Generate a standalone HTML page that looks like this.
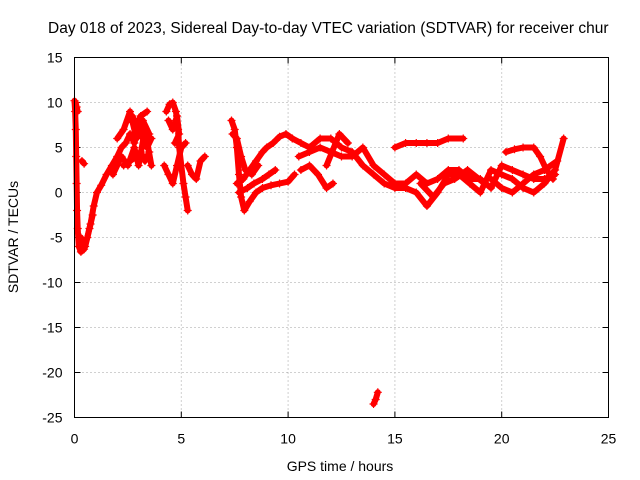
<!DOCTYPE html>
<html><head><meta charset="utf-8"><style>
body{margin:0;background:#fff;}
svg{display:block;font-family:"Liberation Sans",sans-serif;}
</style></head><body>
<svg id="chart" width="640" height="480">
<text x="48" y="33" font-size="15.5" text-anchor="start">Day 018 of 2023, Sidereal Day-to-day VTEC variation (SDTVAR) for receiver chur</text>
<text x="340" y="471" font-size="14" text-anchor="middle">GPS time / hours</text>
<text x="18" y="237" font-size="14" text-anchor="middle" transform="rotate(-90 18 237)">SDTVAR / TECUs</text>
<g id="grid"></g>
<g id="ticks"></g>
<g id="plot"></g>
<rect x="74.5" y="57.5" width="534" height="360" fill="none" stroke="#000"/>
</svg>
<script>
const xTicks=[0,5,10,15,20,25];
const yTicks=[15,10,5,0,-5,-10,-15,-20,-25];
const segA=[[0,10.2],[0.03,9],[0.06,7],[0.08,4],[0.1,1],[0.12,-2],[0.15,-4],[0.2,-6],[0.3,-6.6],[0.45,-6.3],[0.6,-5],[0.75,-3.5],[0.9,-1.5],[1.05,0],[1.25,0.8],[1.5,2],[1.75,3],[2.0,4],[2.2,5],[2.4,5.5],[2.6,6.5],[2.8,5.5],[3.0,7],[3.2,6],[3.4,5],[3.6,6]];
const segA2=[[0.05,10],[0.1,9.5],[0.15,9]];
const segA3=[[2.3,3],[2.6,3.5],[2.9,4],[3.1,4.5],[3.3,3.5],[3.5,4.5]];
const segA4=[[2.5,8],[2.7,8.5],[2.9,7.5],[3.1,8.5],[3.4,9]];
const segA5=[[0.35,3.5],[0.45,3.2]];
const segA6=[[1.8,2],[2.2,4],[2.5,3],[2.8,5],[3.0,3],[3.3,7],[3.6,3]];
const segA7=[[2.0,6],[2.3,7],[2.6,9],[2.9,6],[3.2,8],[3.5,6.5]];
const segA8=[[0.3,-5],[0.5,-6],[0.7,-4],[0.85,-2.5]];
const segB=[[4.3,9],[4.45,9.8],[4.6,10],[4.75,9],[4.85,7],[4.9,5],[5.0,3],[5.1,1],[5.2,-0.5],[5.3,-2]];
const segB2=[[4.2,3],[4.4,2],[4.6,1],[4.8,3],[5.0,5],[5.2,5.5]];
const segB3=[[5.3,3],[5.5,2],[5.7,1.5],[5.9,3.5],[6.1,4]];
const segB4=[[4.4,8],[4.6,7],[4.8,8.5],[4.9,6.5],[4.7,5.5]];
const segC=[[7.35,8],[7.5,7],[7.6,5],[7.7,2],[7.8,-0.5],[7.95,-2],[8.2,-1],[8.5,0],[8.8,0.5],[9.2,0.8],[9.6,1],[10.0,1.2],[10.3,2]];
const segC2=[[7.6,1],[7.9,1.5],[8.2,2.5],[8.5,3.5],[8.8,4.5],[9.0,5],[9.3,5.5],[9.6,6.2],[9.9,6.5],[10.2,6]];
const segC3=[[7.7,0],[8.1,0.5],[8.4,1],[8.8,1.5],[9.1,2],[9.4,2.5]];
const segC4=[[7.4,6.5],[7.6,6],[7.8,4],[8.0,2.5],[8.3,2],[8.6,3]];
const segD=[[10.2,6],[10.6,5.5],[11,5],[11.5,6],[12,6],[12.5,5],[13,4.5],[13.5,3],[14,2],[14.5,1],[15,0.5],[15.5,0.5],[16,0],[16.5,-1.5],[17,0],[17.5,2],[18,2],[18.5,1],[19,0],[19.5,2.5],[20,2],[20.5,1.5],[21,0.5],[21.5,0],[22,1],[22.5,2.5],[22.9,6]];
const segD2=[[10.5,4],[11,4.5],[11.5,5],[12,4.5],[12.5,4],[13,4],[13.5,5],[14,3],[14.5,2],[15,1],[15.5,1],[16,2],[16.5,1],[17,1.5],[17.5,2.5],[18,2.5],[18.5,1.5],[19,1.5],[19.5,0.5],[20,3],[20.5,2.5],[21,2],[21.5,1.5],[22,1.5],[22.5,2]];
const segD3=[[10.6,2.5],[11,3],[11.4,2],[11.8,0.5],[12.1,1]];
const segD4=[[15,5],[15.5,5.5],[16,5.5],[16.5,5.5],[17,5.5],[17.5,6],[18.2,6]];
const segD5=[[20.2,4.5],[20.6,4.8],[21,5],[21.5,5],[21.8,4],[22.1,2.5],[22.4,1.5]];
const segD6=[[11.8,3],[12.4,6.5],[12.8,5.5]];
const segD7=[[19.5,1.5],[20,0.5],[20.5,0],[21,1],[21.5,2],[22,2.5],[22.6,3.5]];
const segD8=[[16.2,1],[16.8,-0.5],[17.3,1],[17.8,1.5],[18.4,2.5],[19.2,1]];
const segE=[[14.0,-23.5],[14.1,-23],[14.2,-22.2]];
const segments=[segA,segA2,segA3,segA4,segA5,segA6,segA7,segA8,segB,segB2,segB3,segB4,segC,segC2,segC3,segC4,segD,segD2,segD3,segD4,segD5,segD6,segD7,segD8,segE];
const NS="http://www.w3.org/2000/svg";
const X0=74.5,X1=608.5,Y0=417.5,Y1=57.5;
const xs=t=>X0+(t-0)/(25-0)*(X1-X0);
const ys=v=>Y0-(v+25)/(15+25)*(Y0-Y1);
const grid=document.getElementById('grid'),ticks=document.getElementById('ticks'),plot=document.getElementById('plot');
function mk(tag,a){const e=document.createElementNS(NS,tag);for(const k in a)e.setAttribute(k,a[k]);return e;}
xTicks.forEach(t=>{const x=xs(t);
 if(t>0&&t<25){const g=mk('line',{x1:x,x2:x,y1:Y0,y2:Y1,stroke:'#a0a0a0','stroke-dasharray':'1,3'});grid.appendChild(g);}
 const tk=mk('path',{d:`M${x},${Y0}v-6M${x},${Y1}v6`,stroke:'#000'});ticks.appendChild(tk);
 const l=mk('text',{x:x,y:Y0+26,'font-size':14,'text-anchor':'middle'});l.textContent=t;ticks.appendChild(l);});
yTicks.forEach(v=>{const y=ys(v);
 if(v<15&&v>-25){const g=mk('line',{x1:X0,x2:X1,y1:y,y2:y,stroke:'#a0a0a0','stroke-dasharray':'1,3'});grid.appendChild(g);}
 const tk=mk('path',{d:`M${X0},${y}h6M${X1},${y}h-6`,stroke:'#000'});ticks.appendChild(tk);
 const l=mk('text',{x:X0-12,y:y+5,'font-size':14,'text-anchor':'end'});l.textContent=v;ticks.appendChild(l);});
segments.forEach(seg=>{
 const pl=mk('polyline',{points:seg.map(p=>xs(p[0])+','+ys(p[1])).join(' '),fill:'none',stroke:'#f00','stroke-width':6,'stroke-linejoin':'round','stroke-linecap':'round'});
 
 
 plot.appendChild(pl);
 seg.forEach(p=>{const x=xs(p[0]),y=ys(p[1]);
  const m=mk('path',{d:`M${x-4},${y}h8M${x},${y-4}v8`,stroke:'#f00','stroke-width':1.2});
  
  
  plot.appendChild(m);});
});
</script>
</body></html>
